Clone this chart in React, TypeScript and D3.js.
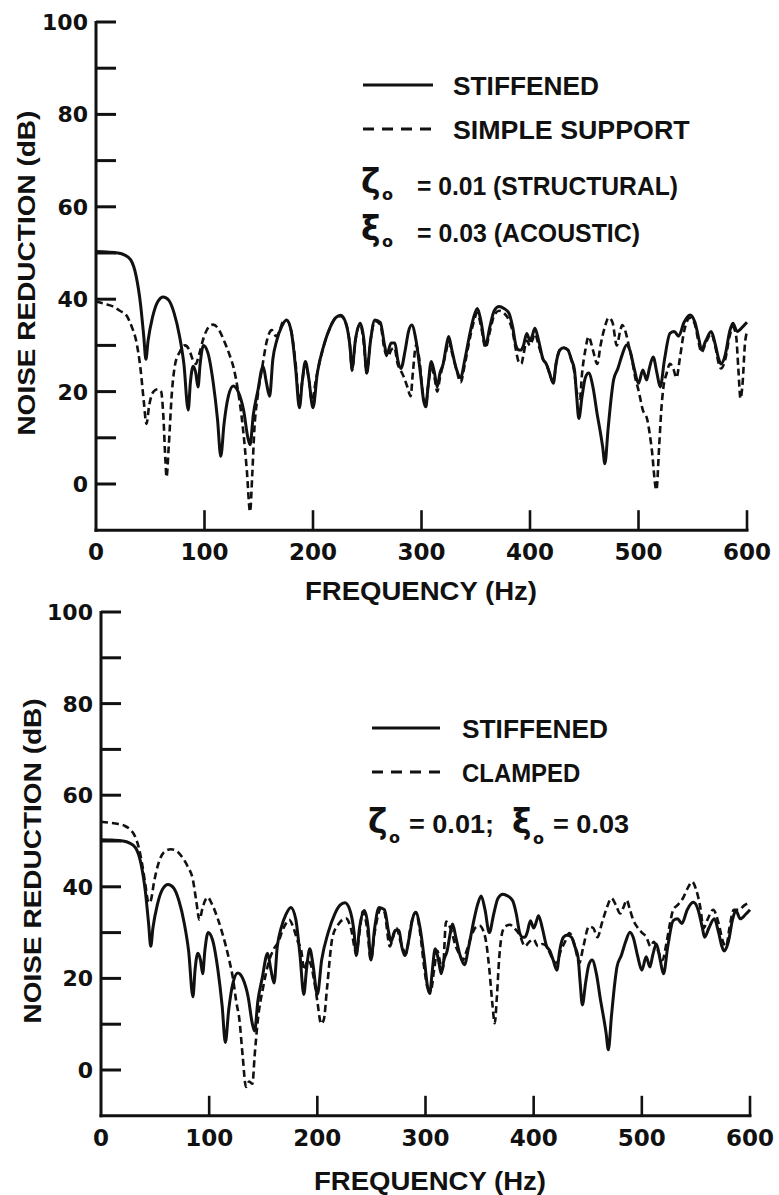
import React from "react";
import * as d3 from "d3";

type Pt = [number, number];

// Frequency (Hz), noise reduction (dB)
const stiffened: Pt[] = [
  [0, 50.3], [10, 50.2], [20, 50], [26, 49.6], [32, 48.5], [37, 45], [41, 39], [44, 32], [46, 27], [48, 31],
  [52, 36], [57, 39.5], [62, 40.5], [67, 39.8], [72, 37], [77, 32], [81, 26], [85, 16], [87, 22], [89.5, 25.5],
  [92, 24], [94, 21], [96, 26], [99, 30], [103, 28.5], [108, 22], [112, 14], [115, 6], [118, 13], [122, 19],
  [126.5, 21.2], [131, 20], [136, 16], [140, 10], [142, 8.5], [145, 15], [149, 20], [154, 25.5], [157, 22], [160, 19],
  [163, 27], [166.5, 31], [171, 34], [175.5, 35.5], [180, 33], [184, 25], [187.5, 16.5], [190, 22], [193, 26.5], [196, 23],
  [200, 16.5], [204, 24], [210, 30], [216, 34], [221, 36], [225.5, 36.5], [230, 35], [234, 30], [236, 25], [239, 31],
  [243.5, 34.8], [247, 31], [249.5, 24], [253, 31], [257, 35.5], [262, 35], [266, 30], [268, 28], [272, 30.5], [275.5, 30.5],
  [278, 27], [281, 25], [285, 29], [288, 33], [291, 34.4], [295, 31], [299, 24], [302, 18], [304, 16.7], [306, 21],
  [309, 26.5], [312, 24], [314.5, 21], [317, 24], [320, 26], [323, 30], [325, 31.9], [328, 29], [332, 25], [336, 23],
  [340, 27], [345, 33], [348, 36], [351.5, 38], [355, 35], [359, 30], [363, 34], [367, 37.5], [371.5, 38.4], [376, 38],
  [380.5, 37], [384, 34], [387, 30], [389.5, 29], [392, 29], [394, 30], [397, 32.6], [400, 31], [402, 32], [404.5, 33.7],
  [408, 31], [412, 27], [415, 26], [418, 24], [421.5, 21.8], [424, 26], [427.5, 29], [431, 29.5], [435, 29], [438, 27],
  [441, 24.7], [443, 19], [445, 14.2], [448, 19], [451, 23], [454, 24], [458, 21], [462, 15], [464.5, 11.7], [467, 8],
  [469, 4.4], [472, 12], [475, 19], [477, 22.5], [481, 25], [485, 28], [489, 30.1], [492, 29], [496, 25], [500, 21.8],
  [504, 24.7], [507.5, 22.5], [510, 25], [513.5, 27.5], [517, 24], [520, 21], [524, 27], [529, 32.6], [533, 33], [537, 32],
  [542, 35], [547.5, 36.6], [552, 35], [556, 31], [558, 29], [562, 31], [567, 33], [571, 30], [574, 27], [576, 26],
  [580, 28], [584, 33], [587, 34.8], [591, 33], [596, 34], [600, 35],
];

const simpleSupport: Pt[] = [
  [0, 39.5], [8, 39], [15, 38.5], [22, 37.5], [28, 36.5], [33, 34], [37, 31], [41, 25], [44, 18], [46.5, 13],
  [49, 17], [53, 20], [57, 20.5], [60, 20], [62, 15], [64, 5], [65, 1.5], [67, 8], [70, 20], [73, 26],
  [77, 28.5], [82, 30], [86, 29], [89, 27], [92, 26], [95, 28], [99, 31.5], [104, 34], [108, 34.5], [113, 33.5],
  [118, 31], [123, 28], [127, 25], [131, 20], [135, 13], [139, 3], [142, -6], [144, 2], [146, 12], [149, 19],
  [153, 25], [157.5, 31], [162, 33.3], [166, 32], [169, 33], [172, 35], [175.5, 35.5], [180, 33], [184, 26], [187.5, 17.5],
  [190, 22], [193, 26], [196, 23], [199, 18], [203, 23], [210, 30], [216, 34], [221, 36], [225.5, 36.3], [230, 35],
  [234, 30], [236, 24.5], [239, 31], [243.5, 34.5], [247, 30], [249.5, 24], [253, 31], [257, 35.3], [262, 34.5], [266, 29],
  [269, 27.5], [272, 29], [275, 29.5], [278, 26], [281, 24.5], [284, 23], [287, 21], [290, 19], [292, 24], [295, 30],
  [298, 27], [301, 20], [304, 17], [306, 21], [309, 25], [312, 23], [314.5, 20], [317, 23], [320, 26],
  [323, 29], [325, 31], [328, 28.5], [332, 25], [336, 22], [340, 26], [345, 32], [348, 35], [351.5, 37], [355, 34],
  [359, 29.5], [363, 33], [367, 36.5], [371.5, 37.5], [376, 37], [380.5, 35.5], [384, 33], [387, 29], [389.5, 26.5], [392, 26],
  [394, 28], [397, 31], [400, 30], [402, 31], [404.5, 32.5], [408, 30], [412, 27], [415, 26], [418, 24], [421.5, 22],
  [424, 26], [427.5, 29], [431, 29.5], [435, 29], [438, 27], [441, 24], [443, 20], [446, 18.5], [448, 24], [451, 29],
  [454, 31.9], [458, 29], [462, 26], [465, 30], [469, 34], [472.5, 36], [476, 35], [480, 30], [483, 33], [485, 34.4],
  [488, 33], [491, 30], [494, 27], [497, 23], [500, 20.3], [504, 16], [508, 14], [512, 8], [516.5, -1.3], [519, 8],
  [521, 16], [523, 21], [526, 24], [529, 26], [532, 25], [535, 23], [538, 27], [542, 33], [547.5, 36], [552, 34.5],
  [556, 30], [558, 28.5], [562, 30.5], [567, 32.5], [571, 29.5], [574, 26], [576, 25], [580, 27], [584, 32], [587, 34],
  [590, 32], [592, 25], [594, 18.5], [596, 22], [598, 30], [600, 33],
];

const clamped: Pt[] = [
  [0, 54.2], [8, 54], [16, 53.7], [22, 53.3], [27, 52.5], [31.5, 51], [35, 48.5], [38, 45], [41, 40.5], [44, 36.5],
  [46, 37], [49, 41], [53, 45], [58, 47.5], [64.5, 48.2], [70, 47.8], [75, 46.5], [80, 44.5], [85, 41.5], [88, 37],
  [91, 32.8], [94, 35.5], [98.5, 37.7], [103, 36], [108, 33], [112, 30], [115.5, 27], [119, 23.5], [122, 20], [125, 15],
  [128, 10.9], [131, 3], [134, -3.7], [137, -2.5], [140, -3], [142, 3], [145, 10.9], [150, 18.2], [155.6, 24], [160, 26.5],
  [164, 28], [168, 30.6], [171, 32], [174, 32.8], [178, 31], [182, 28], [185, 26.2], [188, 21.8], [191, 24], [194, 23],
  [197, 19.6], [200, 15], [203.5, 10.1], [206, 11], [209, 18], [214, 29], [220, 32], [226.5, 33.1], [231, 31], [236, 25.5],
  [239, 30], [242, 34.6], [246, 31], [249.5, 24], [253, 30], [259, 35.3], [262, 34.5], [267, 27], [270, 29], [273, 31],
  [277, 28], [282, 25.5], [286, 31], [291, 34.5], [295, 30], [299, 22], [302, 18], [305, 17.4], [308, 22], [311, 26],
  [314, 23], [316, 22], [319, 32.4], [323, 31], [328, 27], [332, 25], [334.5, 24], [338, 26], [342, 29], [347, 31.3],
  [350, 31.5], [353, 30.6], [356, 28], [359, 22], [362, 14], [364, 10.2], [366, 16], [368, 24], [371.7, 30.6], [375, 31.5],
  [378, 31.7], [382, 31], [387, 29.5], [392, 27], [396, 28], [400, 28.5], [404, 27], [408, 27.5], [412, 27], [415, 25.5],
  [418, 24], [421, 23.3], [425, 26], [429, 28], [433, 29.9], [437, 28], [440, 25], [442, 23.3], [446, 27], [451, 31.3],
  [455, 31], [459, 29], [463, 32], [467, 35], [472, 37.5], [476, 36], [480, 34.2], [483, 35.5], [486, 37.1], [489, 35],
  [492, 32.8], [495.5, 31.3], [500, 30], [504, 29.1], [508, 27], [511, 28], [515, 26], [519, 24], [523, 28], [526, 32],
  [529, 35], [533, 36], [538, 37.5], [543, 40], [546.5, 41.1], [550, 39.5], [554, 35.6], [557, 31], [561, 33], [566, 35],
  [571, 32], [575, 28], [578, 27], [581, 31], [585, 35], [590, 35], [595, 36], [600, 36.5],
];

const yTicks = [0, 10, 20, 30, 40, 50, 60, 70, 80, 90, 100];
const yTickLabels = [0, 20, 40, 60, 80, 100];
const xTicks = [100, 200, 300, 400, 500, 600];
const xTickLabels = [0, 100, 200, 300, 400, 500, 600];

const xTitle = "FREQUENCY  (Hz)";
const yTitle = "NOISE REDUCTION  (dB)";

const INK = "#111";
const LETTER_FONT = "'Liberation Sans', Arial, sans-serif";
const DIGIT_FONT = "'DejaVu Sans', sans-serif";

interface PanelProps {
  x0: number;
  x1: number;
  yZero: number;
  yHundred: number;
  solid: Pt[];
  dashed: Pt[];
  dashedName: string;
  legend: { lx0: number; lx1: number; ly1: number; ly2: number; tx: number };
  params: React.ReactNode;
  yTitleX: number;
  xTitleY: number;
  xTitleX: number;
}

function Panel(p: PanelProps) {
  const x = d3.scaleLinear().domain([0, 600]).range([p.x0, p.x1]);
  const y = d3.scaleLinear().domain([0, 100]).range([p.yZero, p.yHundred]);
  const yBottom = y(-10);
  const line = d3
    .line<Pt>()
    .x((d) => x(d[0]))
    .y((d) => y(d[1]))
    .curve(d3.curveMonotoneX);
  const yMid = (y(100) + y(-10)) / 2;
  return (
    <g>
      {/* axes */}
      <line x1={x(0)} x2={x(0)} y1={y(100) - 1} y2={yBottom + 1.5} stroke={INK} strokeWidth={3} />
      <line x1={x(0) - 1.5} x2={x(600) + 1.5} y1={yBottom} y2={yBottom} stroke={INK} strokeWidth={3} />
      {yTicks.map((t) => (
        <line key={"yt" + t} x1={x(0)} x2={x(0) + 20} y1={y(t)} y2={y(t)} stroke={INK} strokeWidth={3} />
      ))}
      {xTicks.map((t) => (
        <line key={"xt" + t} x1={x(t)} x2={x(t)} y1={yBottom} y2={yBottom - 20} stroke={INK} strokeWidth={2.6} />
      ))}
      {yTickLabels.map((t) => (
        <text
          key={"yl" + t}
          x={x(0) - 8}
          y={y(t) + 8}
          textAnchor="end"
          fontFamily={DIGIT_FONT}
          fontWeight="bold"
          fontSize={22}
          fill={INK}
        >
          {t}
        </text>
      ))}
      {xTickLabels.map((t) => (
        <text
          key={"xl" + t}
          x={x(t)}
          y={yBottom + 30}
          textAnchor="middle"
          fontFamily={DIGIT_FONT}
          fontWeight="bold"
          fontSize={23}
          fill={INK}
        >
          {t}
        </text>
      ))}
      <text
        x={p.xTitleX}
        y={p.xTitleY}
        textAnchor="middle"
        fontFamily={LETTER_FONT}
        fontWeight="bold"
        fontSize={25}
        fill={INK}
        textLength={232}
        lengthAdjust="spacingAndGlyphs"
      >
        {xTitle}
      </text>
      <text
        transform={`translate(${p.yTitleX},${yMid - 3}) rotate(-90)`}
        textAnchor="middle"
        fontFamily={LETTER_FONT}
        fontWeight="bold"
        fontSize={23}
        fill={INK}
        textLength={325}
        lengthAdjust="spacingAndGlyphs"
      >
        {yTitle}
      </text>

      {/* curves */}
      <path d={line(p.dashed) || ""} fill="none" stroke={INK} strokeWidth={2.6} strokeDasharray="7,4" />
      <path d={line(p.solid) || ""} fill="none" stroke={INK} strokeWidth={3} strokeLinejoin="round" />

      {/* legend */}
      <line x1={p.legend.lx0} x2={p.legend.lx1} y1={p.legend.ly1} y2={p.legend.ly1} stroke={INK} strokeWidth={3} />
      <line
        x1={p.legend.lx0}
        x2={p.legend.lx1}
        y1={p.legend.ly2}
        y2={p.legend.ly2}
        stroke={INK}
        strokeWidth={3}
        strokeDasharray="11,8"
      />
      <text
        x={p.legend.tx}
        y={p.legend.ly1 + 10}
        fontFamily={LETTER_FONT}
        fontWeight="bold"
        fontSize={26}
        fill={INK}
        textLength={146}
        lengthAdjust="spacingAndGlyphs"
      >
        STIFFENED
      </text>
      <text
        x={p.legend.tx}
        y={p.legend.ly2 + 10}
        fontFamily={LETTER_FONT}
        fontWeight="bold"
        fontSize={26}
        fill={INK}
        textLength={p.dashedName.length * 16.9}
        lengthAdjust="spacingAndGlyphs"
      >
        {p.dashedName}
      </text>
      {p.params}
    </g>
  );
}

function Greek({ x, y, ch, subY }: { x: number; y: number; ch: string; subY: number }) {
  return (
    <g>
      <text x={x} y={y} fontFamily={DIGIT_FONT} fontWeight="bold" fontSize={33} fill={INK}>
        {ch}
      </text>
      <text x={x + 21} y={subY} fontFamily={DIGIT_FONT} fontWeight="bold" fontSize={16} fill={INK}>
        o
      </text>
    </g>
  );
}

export default function App() {
  const topParams = (
    <g>
      <Greek x={361} y={193} subY={200} ch="ζ" />
      <text x={417} y={195} fontFamily={LETTER_FONT} fontWeight="bold" fontSize={25} fill={INK} textLength={261} lengthAdjust="spacingAndGlyphs">
        = 0.01 (STRUCTURAL)
      </text>
      <Greek x={361} y={240} subY={247} ch="ξ" />
      <text x={417} y={242} fontFamily={LETTER_FONT} fontWeight="bold" fontSize={25} fill={INK} textLength={223} lengthAdjust="spacingAndGlyphs">
        = 0.03 (ACOUSTIC)
      </text>
    </g>
  );
  const bottomParams = (
    <g>
      <Greek x={368} y={833} subY={843} ch="ζ" />
      <text x={409} y={833} fontFamily={LETTER_FONT} fontWeight="bold" fontSize={25} fill={INK} textLength={85} lengthAdjust="spacingAndGlyphs">
        = 0.01;
      </text>
      <Greek x={512} y={833} subY={844} ch="ξ" />
      <text x={553} y={833} fontFamily={LETTER_FONT} fontWeight="bold" fontSize={25} fill={INK} textLength={76} lengthAdjust="spacingAndGlyphs">
        = 0.03
      </text>
    </g>
  );
  return (
    <svg
      width={779}
      height={1195}
      viewBox="0 0 779 1195"
      style={{ position: "absolute", left: 0, top: 0, background: "#fff" }}
    >
      <rect width={779} height={1195} fill="#fff" />
      <Panel
        x0={96}
        x1={747}
        yZero={484}
        yHundred={22}
        solid={stiffened}
        dashed={simpleSupport}
        dashedName="SIMPLE SUPPORT"
        legend={{ lx0: 363, lx1: 433, ly1: 85, ly2: 129, tx: 453 }}
        params={topParams}
        yTitleX={35}
        xTitleY={600}
        xTitleX={421}
      />
      <Panel
        x0={101}
        x1={750}
        yZero={1070}
        yHundred={612}
        solid={stiffened}
        dashed={clamped}
        dashedName="CLAMPED"
        legend={{ lx0: 372, lx1: 440, ly1: 728, ly2: 772, tx: 462 }}
        params={bottomParams}
        yTitleX={41}
        xTitleY={1190}
        xTitleX={430}
      />
    </svg>
  );
}
